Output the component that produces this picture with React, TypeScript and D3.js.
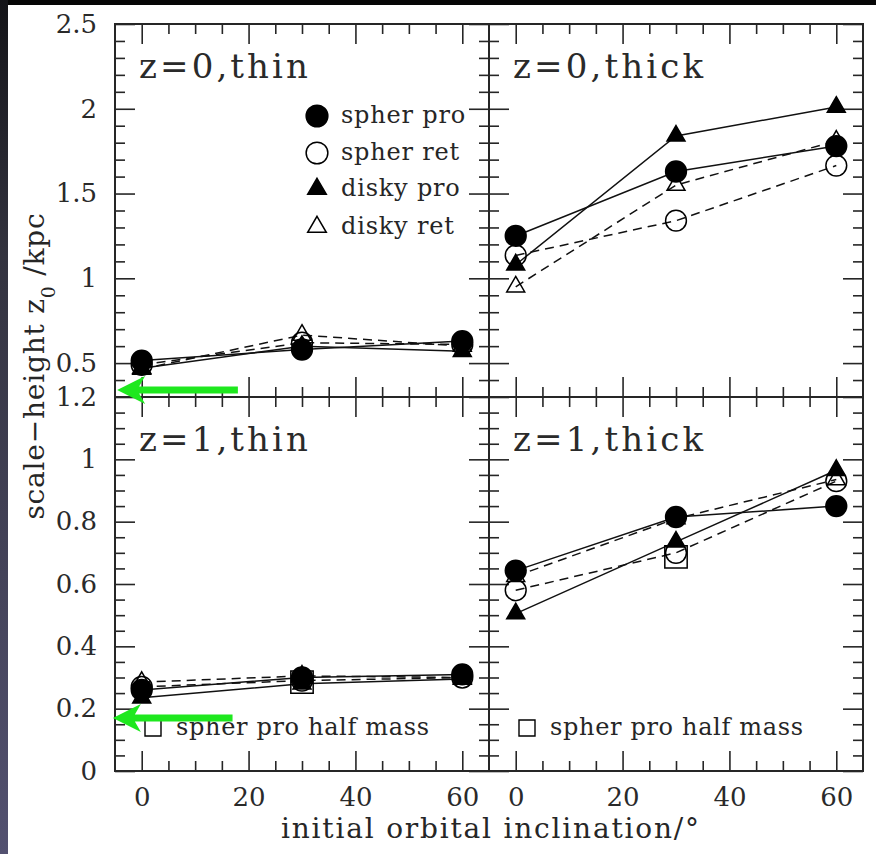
import React, { useEffect, useRef } from "react";
import * as d3 from "d3";

const W = 876;
const H = 854;

const inclinations = [0, 30, 60];
const seriesNames = ["spher pro", "spher ret", "disky pro", "disky ret"];
const halfMassLabel = "spher pro half mass";
const panelTitles = ["z=0,thin", "z=0,thick", "z=1,thin", "z=1,thick"];

// z=0, thin
const z0ThinSpherPro = [0.515, 0.58, 0.63];
const z0ThinSpherRet = [0.49, 0.62, 0.61];
const z0ThinDiskyPro = [0.47, 0.6, 0.57];
const z0ThinDiskyRet = [0.465, 0.665, 0.6];
// z=0, thick
const z0ThickSpherPro = [1.25, 1.63, 1.78];
const z0ThickSpherRet = [1.135, 1.34, 1.665];
const z0ThickDiskyPro = [1.08, 1.84, 2.01];
const z0ThickDiskyRet = [0.95, 1.55, 1.81];
// z=1, thin
const z1ThinSpherPro = [0.26, 0.3, 0.31];
const z1ThinSpherRet = [0.27, 0.29, 0.3];
const z1ThinDiskyPro = [0.235, 0.28, 0.295];
const z1ThinDiskyRet = [0.285, 0.305, 0.3];
// z=1, thick
const z1ThickSpherPro = [0.643, 0.815, 0.85];
const z1ThickSpherRet = [0.58, 0.7, 0.93];
const z1ThickDiskyPro = [0.505, 0.735, 0.965];
const z1ThickDiskyRet = [0.625, 0.81, 0.935];
// spher pro half mass
const halfMassInclinations = [30];
const z1ThinHalfMass = [0.285];
const z1ThickHalfMass = [0.687];

const xDomain = [-5, 65];
const xTicksMajor = [0, 20, 40, 60];
const yDomainTop = [0.3, 2.5];
const yTicksTop = [0.5, 1, 1.5, 2, 2.5];
const yDomainBottom = [0, 1.2];
const yTicksBottom = [0, 0.2, 0.4, 0.6, 0.8, 1, 1.2];

// green annotation arrows (data units of the left panels)
const arrowRows = [0, 1];
const arrowTailX = [18, 17];
const arrowTipX = [-4.6, -5.4];
const arrowY = [0.341, 0.17];

const SERIF = "'DejaVu Serif', serif";
const INK = "#262626";

export default function App() {
  const ref = useRef<SVGSVGElement | null>(null);

  useEffect(() => {
    const svg = d3.select(ref.current);
    svg.selectAll("*").remove();

    const defs = svg.append("defs");
    const grad = defs
      .append("linearGradient")
      .attr("id", "leftStrip")
      .attr("x1", 0)
      .attr("y1", 0)
      .attr("x2", 0)
      .attr("y2", 1);
    grad.append("stop").attr("offset", "0").attr("stop-color", "#141418");
    grad.append("stop").attr("offset", "0.3").attr("stop-color", "#33333f");
    grad.append("stop").attr("offset", "1").attr("stop-color", "#535170");

    svg.append("rect").attr("width", W).attr("height", H).attr("fill", "#060606");
    svg.append("rect").attr("x", 0).attr("y", 0).attr("width", 8).attr("height", H).attr("fill", "url(#leftStrip)");
    svg.append("rect").attr("x", 8).attr("y", 5).attr("width", W - 8).attr("height", H - 5).attr("fill", "#ffffff");

    const L = 115, M = 489, R = 863, T = 24, MY = 397, B = 771;

    const seriesStyle = [
      { sym: d3.symbolCircle, size: 340, filled: true, dash: null },
      { sym: d3.symbolCircle, size: 340, filled: false, dash: "9,6" },
      { sym: d3.symbolTriangle, size: 140, filled: true, dash: null },
      { sym: d3.symbolTriangle, size: 140, filled: false, dash: "9,6" },
    ];

    const panels = [
      {
        x0: L, x1: M, y0: T, y1: MY, yDomain: yDomainTop, yMajor: yTicksTop, yMinorStep: 0.1,
        title: panelTitles[0], titleLen: 169,
        data: [z0ThinSpherPro, z0ThinSpherRet, z0ThinDiskyPro, z0ThinDiskyRet],
        half: null as number[] | null, legend: true, halfLegend: false, yLabels: true, xLabels: false,
      },
      {
        x0: M, x1: R, y0: T, y1: MY, yDomain: yDomainTop, yMajor: yTicksTop, yMinorStep: 0.1,
        title: panelTitles[1], titleLen: 190,
        data: [z0ThickSpherPro, z0ThickSpherRet, z0ThickDiskyPro, z0ThickDiskyRet],
        half: null, legend: false, halfLegend: false, yLabels: false, xLabels: false,
      },
      {
        x0: L, x1: M, y0: MY, y1: B, yDomain: yDomainBottom, yMajor: yTicksBottom, yMinorStep: 0.05,
        title: panelTitles[2], titleLen: 169,
        data: [z1ThinSpherPro, z1ThinSpherRet, z1ThinDiskyPro, z1ThinDiskyRet],
        half: z1ThinHalfMass, legend: false, halfLegend: true, yLabels: true, xLabels: true,
      },
      {
        x0: M, x1: R, y0: MY, y1: B, yDomain: yDomainBottom, yMajor: yTicksBottom, yMinorStep: 0.05,
        title: panelTitles[3], titleLen: 190,
        data: [z1ThickSpherPro, z1ThickSpherRet, z1ThickDiskyPro, z1ThickDiskyRet],
        half: z1ThickHalfMass, legend: false, halfLegend: true, yLabels: false, xLabels: true,
      },
    ];

    const scales: { x: d3.ScaleLinear<number, number>; y: d3.ScaleLinear<number, number> }[] = [];

    panels.forEach((p) => {
      const x = d3.scaleLinear().domain(xDomain).range([p.x0, p.x1]);
      const y = d3.scaleLinear().domain(p.yDomain).range([p.y1, p.y0]);
      scales.push({ x, y });
      const g = svg.append("g");

      const near = (a: number, b: number) => Math.abs(a - b) < 1e-6;
      const xMinor = d3
        .range(xDomain[0], xDomain[1] + 0.001, 5)
        .filter((v) => !xTicksMajor.some((m) => near(m, v)) && !near(v, xDomain[0]) && !near(v, xDomain[1]));
      const yMinor = d3
        .range(p.yDomain[0], p.yDomain[1] + 0.001, p.yMinorStep)
        .map((v) => Math.round(v * 1000) / 1000)
        .filter((v) => !p.yMajor.some((m) => near(m, v)) && !near(v, p.yDomain[0]) && !near(v, p.yDomain[1]));

      const fmt = (d: any) => String(Math.round(d * 100) / 100);

      const addAxis = (axis: d3.Axis<any>, tx: number, ty: number) => {
        const ag = g.append("g").attr("transform", `translate(${tx},${ty})`).call(axis);
        ag.select(".domain").remove();
        ag.selectAll("line").attr("stroke", INK).attr("stroke-width", 1.6);
        ag.selectAll("text")
          .attr("font-family", SERIF)
          .attr("font-size", 26)
          .attr("fill", "#2a2a2a");
        ag.attr("font-family", null).attr("font-size", null);
        return ag;
      };

      // bottom
      addAxis(d3.axisBottom(x).tickValues(xMinor).tickSizeInner(-10).tickSizeOuter(0).tickFormat(() => ""), 0, p.y1);
      addAxis(
        d3.axisBottom(x).tickValues(xTicksMajor).tickSizeInner(-20).tickSizeOuter(0).tickPadding(17)
          .tickFormat(p.xLabels ? (d: any) => String(d) : () => ""),
        0, p.y1
      );
      // top
      addAxis(d3.axisTop(x).tickValues(xMinor).tickSizeInner(-10).tickSizeOuter(0).tickFormat(() => ""), 0, p.y0);
      addAxis(d3.axisTop(x).tickValues(xTicksMajor).tickSizeInner(-20).tickSizeOuter(0).tickFormat(() => ""), 0, p.y0);
      // left
      addAxis(d3.axisLeft(y).tickValues(yMinor).tickSizeInner(-10).tickSizeOuter(0).tickFormat(() => ""), p.x0, 0);
      addAxis(
        d3.axisLeft(y).tickValues(p.yMajor).tickSizeInner(-20).tickSizeOuter(0).tickPadding(18)
          .tickFormat(p.yLabels ? fmt : () => ""),
        p.x0, 0
      );
      // right
      addAxis(d3.axisRight(y).tickValues(yMinor).tickSizeInner(-10).tickSizeOuter(0).tickFormat(() => ""), p.x1, 0);
      addAxis(d3.axisRight(y).tickValues(p.yMajor).tickSizeInner(-20).tickSizeOuter(0).tickFormat(() => ""), p.x1, 0);

      // frame
      g.append("rect")
        .attr("x", p.x0)
        .attr("y", p.y0)
        .attr("width", p.x1 - p.x0)
        .attr("height", p.y1 - p.y0)
        .attr("fill", "none")
        .attr("stroke", INK)
        .attr("stroke-width", 2);

      // lines
      const line = d3
        .line<number>()
        .x((_, i) => x(inclinations[i]))
        .y((d) => y(d));
      p.data.forEach((vals, si) => {
        const st = seriesStyle[si];
        g.append("path")
          .attr("d", line(vals) as string)
          .attr("fill", "none")
          .attr("stroke", "#111")
          .attr("stroke-width", 1.5)
          .attr("stroke-dasharray", st.dash as any);
      });
      // markers
      p.data.forEach((vals, si) => {
        const st = seriesStyle[si];
        const sym = d3.symbol().type(st.sym).size(st.size);
        vals.forEach((v, i) => {
          g.append("path")
            .attr("d", sym() as string)
            .attr("transform", `translate(${x(inclinations[i])},${y(v)})`)
            .attr("fill", st.filled ? "#000" : "none")
            .attr("stroke", "#000")
            .attr("stroke-width", 1.5);
        });
      });
      if (p.half) {
        const sq = d3.symbol().type(d3.symbolSquare).size(500);
        p.half.forEach((v, i) => {
          g.append("path")
            .attr("d", sq() as string)
            .attr("transform", `translate(${x(halfMassInclinations[i])},${y(v)})`)
            .attr("fill", "none")
            .attr("stroke", "#000")
            .attr("stroke-width", 1.5);
        });
      }

      // title
      g.append("text")
        .attr("x", p.x0 + 24)
        .attr("y", p.y0 + 54)
        .attr("font-family", SERIF)
        .attr("font-size", 34)
        .attr("textLength", p.titleLen)
        .attr("lengthAdjust", "spacing")
        .attr("fill", "#2a2a2a")
        .text(p.title);

      // legend
      if (p.legend) {
        const rowsY = [92, 129, 165, 203];
        seriesNames.forEach((name, si) => {
          const st = seriesStyle[si];
          const cy = p.y0 + rowsY[si];
          const sym = d3.symbol().type(st.sym).size(st.sym === d3.symbolCircle ? 370 : 150);
          g.append("path")
            .attr("d", sym() as string)
            .attr("transform", `translate(${p.x0 + 202},${cy})`)
            .attr("fill", st.filled ? "#000" : "none")
            .attr("stroke", "#000")
            .attr("stroke-width", 1.5);
          g.append("text")
            .attr("x", p.x0 + 226)
            .attr("y", cy + 7)
            .attr("font-family", SERIF)
            .attr("font-size", 24)
            .attr("letter-spacing", 0.8)
            .attr("fill", INK)
            .text(name);
        });
      }
      if (p.halfLegend) {
        const cy = p.y1 - 43;
        const sq = d3.symbol().type(d3.symbolSquare).size(256);
        g.append("path")
          .attr("d", sq() as string)
          .attr("transform", `translate(${p.x0 + 38},${cy})`)
          .attr("fill", "none")
          .attr("stroke", "#000")
          .attr("stroke-width", 1.4);
        g.append("text")
          .attr("x", p.x0 + 61)
          .attr("y", cy + 7)
          .attr("font-family", SERIF)
          .attr("font-size", 24)
          .attr("textLength", 253)
          .attr("lengthAdjust", "spacing")
          .attr("fill", INK)
          .text(halfMassLabel);
      }
    });

    // axis titles
    const yl = svg
      .append("text")
      .attr("transform", "translate(44,366) rotate(-90)")
      .attr("text-anchor", "middle")
      .attr("font-family", SERIF)
      .attr("font-size", 28)
      .attr("letter-spacing", 0.8)
      .attr("fill", INK);
    yl.append("tspan").text("scale\u2212height z");
    yl.append("tspan").attr("baseline-shift", "sub").attr("font-size", 19).text("0");
    yl.append("tspan").text(" /kpc");

    svg
      .append("text")
      .attr("x", 490)
      .attr("y", 838)
      .attr("text-anchor", "middle")
      .attr("font-family", SERIF)
      .attr("font-size", 28)
      .attr("textLength", 418)
      .attr("lengthAdjust", "spacing")
      .attr("fill", INK)
      .text("initial orbital inclination/\u00b0");

    // green arrows
    arrowRows.forEach((row, i) => {
      const { x, y } = scales[row * 2];
      const tx = x(arrowTailX[i]);
      const hx = x(arrowTipX[i]);
      const yy = y(arrowY[i]);
      const headLen = 28, headHalf = 14, shaftHalf = 3.5;
      const pts: [number, number][] = [
        [hx, yy],
        [hx + headLen, yy - headHalf],
        [hx + headLen - 6, yy - shaftHalf],
        [tx, yy - shaftHalf],
        [tx, yy + shaftHalf],
        [hx + headLen - 6, yy + shaftHalf],
        [hx + headLen, yy + headHalf],
      ];
      svg
        .append("path")
        .attr("d", (d3.line()(pts) as string) + "Z")
        .attr("fill", "#1ee81e");
    });
  }, []);

  return (
    <svg
      ref={ref}
      width={W}
      height={H}
      style={{ position: "absolute", left: 0, top: 0, display: "block" }}
    />
  );
}
